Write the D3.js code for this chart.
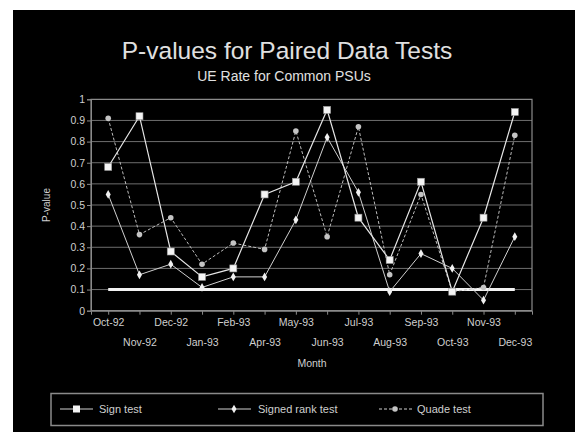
<!DOCTYPE html>
<html><head><meta charset="utf-8">
<script src="https://cdn.jsdelivr.net/npm/d3@7"></script>
<style>body{margin:0;background:#fff}svg{display:block}text{font-family:"Liberation Sans",Arial,sans-serif}</style>
</head><body><svg id="c" width="575" height="432"></svg>
<script>
const months = ["Oct-92","Nov-92","Dec-92","Jan-93","Feb-93","Apr-93","May-93","Jun-93","Jul-93","Aug-93","Sep-93","Oct-93","Nov-93","Dec-93"];
const signTest = [0.68,0.92,0.28,0.16,0.20,0.55,0.61,0.95,0.44,0.24,0.61,0.09,0.44,0.94];
const signedRank = [0.55,0.17,0.22,0.11,0.16,0.16,0.43,0.82,0.56,0.09,0.27,0.20,0.05,0.35];
const quade = [0.91,0.36,0.44,0.22,0.32,0.29,0.85,0.35,0.87,0.17,0.55,0.09,0.11,0.83];
const refLevel = 0.1;
const yTicks = [0,0.1,0.2,0.3,0.4,0.5,0.6,0.7,0.8,0.9,1];
const yTickLabels = ["0","0.1","0.2","0.3","0.4","0.5","0.6","0.7","0.8","0.9","1"];
const seriesNames = ["Sign test","Signed rank test","Quade test"];

const svg = d3.select("#c");
svg.append("rect").attr("x",13).attr("y",10).attr("width",562).attr("height",422).attr("fill","#000");

const L=91,R=532,T=99.3,B=310.7;
const x = d3.scalePoint().domain(months).range([L,R]).padding(0.55);
const y = d3.scaleLinear().domain([0,1]).range([B,T]);
const txt="#cfcfcf";

// title
svg.append("text").attr("x",287).attr("y",59).attr("text-anchor","middle").attr("fill","#e0e0e0")
  .style("font-size","24.5px").text("P-values for Paired Data Tests");
svg.append("text").attr("x",284).attr("y",81).attr("text-anchor","middle").attr("fill","#e0e0e0")
  .style("font-size","14px").text("UE Rate for Common PSUs");

// grid
svg.append("g").selectAll("line").data(yTicks.slice(1,10)).join("line")
  .attr("x1",L).attr("x2",R).attr("y1",d=>y(d)).attr("y2",d=>y(d))
  .attr("stroke","#6e6e6e").attr("stroke-width",1);
// frame
svg.append("path").attr("d",`M${L},${B}V${T}H${R}V${B}Z`).attr("fill","none").attr("stroke","#8a8a8a").attr("stroke-width",1.2);

// y axis
const ya = svg.append("g").attr("transform",`translate(${L},0)`)
  .call(d3.axisLeft(y).tickValues(yTicks).tickFormat((d,i)=>yTickLabels[i]).tickSize(4).tickPadding(2));
ya.select(".domain").attr("stroke","#8a8a8a");
ya.selectAll(".tick line").attr("stroke","#8a8a8a");
ya.selectAll("text").attr("fill",txt).style("font-size","10.5px").style("font-family","Liberation Sans,Arial,sans-serif");

// x axis
const xa = svg.append("g").attr("transform",`translate(0,${B})`)
  .call(d3.axisBottom(x).tickSize(4).tickPadding(4));
xa.select(".domain").attr("stroke","#8a8a8a");
xa.selectAll(".tick line").attr("stroke","#8a8a8a");
xa.selectAll("text").attr("fill",txt).style("font-size","10.5px").style("font-family","Liberation Sans,Arial,sans-serif")
  .attr("dy",(d,i)=> i%2 ? "2.6em" : "0.71em");

svg.append("text").attr("x",312).attr("y",367).attr("text-anchor","middle").attr("fill",txt).style("font-size","10.5px").text("Month");
svg.append("text").attr("transform","translate(50,205) rotate(-90)").attr("text-anchor","middle").attr("fill",txt).style("font-size","10px").text("P-value");

// reference line
svg.append("line").attr("x1",x(months[0])).attr("x2",x(months[months.length-1]))
  .attr("y1",y(refLevel)).attr("y2",y(refLevel)).attr("stroke","#f2f2f2").attr("stroke-width",3);

const line = d3.line().x((d,i)=>x(months[i])).y(d=>y(d));
svg.append("path").datum(quade).attr("d",line).attr("fill","none").attr("stroke","#bdbdbd").attr("stroke-width",1).attr("stroke-dasharray","3,2");
svg.append("path").datum(signedRank).attr("d",line).attr("fill","none").attr("stroke","#d0d0d0").attr("stroke-width",1);
svg.append("path").datum(signTest).attr("d",line).attr("fill","none").attr("stroke","#e6e6e6").attr("stroke-width",1.2);

svg.append("g").selectAll("circle").data(quade).join("circle")
  .attr("cx",(d,i)=>x(months[i])).attr("cy",d=>y(d)).attr("r",2.8).attr("fill","#c4c4c4");
svg.append("g").selectAll("path").data(signedRank).join("path")
  .attr("transform",(d,i)=>`translate(${x(months[i])},${y(d)})`)
  .attr("d",d3.symbol(d3.symbolDiamond,22)).attr("fill","#f0f0f0");
svg.append("g").selectAll("rect").data(signTest).join("rect")
  .attr("x",(d,i)=>x(months[i])-3.5).attr("y",d=>y(d)-3.5).attr("width",7).attr("height",7)
  .attr("fill","#f4f4f4").attr("stroke","#999").attr("stroke-width",0.6);

// legend
svg.append("rect").attr("x",51).attr("y",393.5).attr("width",492).attr("height",32).attr("fill","none").attr("stroke","#8a8a8a").attr("stroke-width",1.5);
const ly=409;
const leg=[{x:60,t:99},{x:218,t:258},{x:379,t:417}];
leg.forEach((p,k)=>{
  const g=svg.append("g");
  g.append("line").attr("x1",p.x).attr("x2",p.x+33).attr("y1",ly).attr("y2",ly).attr("stroke","#d0d0d0").attr("stroke-width",1)
    .attr("stroke-dasharray",k===2?"3,2":null);
  if(k===0) g.append("rect").attr("x",p.x+13).attr("y",ly-3.5).attr("width",7).attr("height",7).attr("fill","#f4f4f4");
  else if(k===1) g.append("path").attr("transform",`translate(${p.x+16},${ly})`).attr("d",d3.symbol(d3.symbolDiamond,22)).attr("fill","#f0f0f0");
  else g.append("circle").attr("cx",p.x+16).attr("cy",ly).attr("r",2.8).attr("fill","#c4c4c4");
  g.append("text").attr("x",p.t).attr("y",ly+4).attr("fill",txt).style("font-size","11px").text(seriesNames[k]);
});
</script></body></html>
